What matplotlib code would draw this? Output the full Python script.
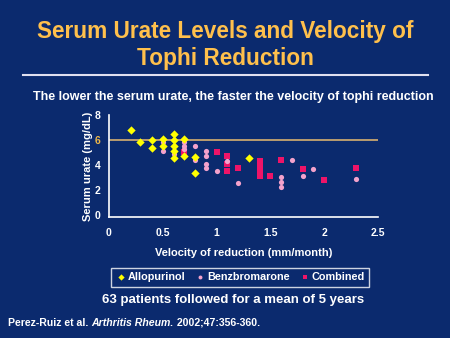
import matplotlib.pyplot as plt

BG = "#0b2a6e"

allo_x = [0.2, 0.29, 0.4, 0.4, 0.5, 0.5, 0.6, 0.6, 0.6, 0.6, 0.6, 0.7, 0.7, 0.8, 0.8, 1.3]
allo_y = [6.8, 5.85, 6.0, 5.35, 6.05, 5.5, 6.45, 6.0, 5.55, 5.1, 4.6, 6.1, 4.75, 4.65, 3.4, 4.6]

benz_x = [0.5, 0.5, 0.6, 0.7, 0.7, 0.7, 0.8, 0.8, 0.9, 0.9, 0.9, 0.9,
          1.0, 1.1, 1.2, 1.6, 1.6, 1.6, 1.7, 1.8, 1.9, 2.3]
benz_y = [5.8, 5.1, 4.9, 5.85, 5.55, 5.25, 5.5, 4.4, 5.1, 4.75, 4.1, 3.75,
          3.55, 4.3, 2.6, 3.05, 2.65, 2.25, 4.4, 3.15, 3.65, 2.85]

comb_x = [0.7, 1.0, 1.1, 1.1, 1.1, 1.2, 1.4, 1.4, 1.4, 1.4, 1.5, 1.6, 1.8, 2.0, 2.3]
comb_y = [5.0, 5.0, 4.75, 4.05, 3.55, 3.75, 4.3, 3.9, 3.5, 3.1, 3.15, 4.4, 3.7, 2.8, 3.75]

x_ticks = [0, 0.5, 1, 1.5, 2, 2.5]
x_tick_labels = ["0", "0.5", "1", "1.5", "2", "2.5"]
y_ticks = [0, 2, 4, 6, 8]

plt.rcParams["font.family"] = ["Liberation Sans", "DejaVu Sans"]

fig = plt.figure(figsize=(4.5, 3.38), dpi=100, facecolor=BG)
ax = fig.add_axes([0.2422, 0.358, 0.5978, 0.302], facecolor=BG)

# reference line at 6 mg/dL
ax.axhline(6, color="#d8b070", lw=1.2, zorder=1)

comb = ax.scatter(comb_x, comb_y, marker="s", s=22, color="#ee1468", zorder=2, lw=0)
benz = ax.scatter(benz_x, benz_y, marker="o", s=14, color="#f4a2cc", zorder=3, lw=0)
allo = ax.scatter(allo_x, allo_y, marker="D", s=18, color="#ffff00", zorder=4, lw=0)

ax.set_xlim(0, 2.5)
ax.set_ylim(-0.15, 8)
ax.set_xticks(x_ticks, x_tick_labels)
ax.set_yticks(y_ticks, [str(v) for v in y_ticks])
ax.tick_params(colors="white", length=0, labelsize=7.5)
ax.tick_params(axis="x", pad=8)
ax.tick_params(axis="y", pad=6)
for lbl in ax.get_xticklabels() + ax.get_yticklabels():
    lbl.set_fontweight("bold")
ax.get_yticklabels()[3].set_color("#f0b848")

for side in ["top", "right"]:
    ax.spines[side].set_visible(False)
for side in ["left", "bottom"]:
    ax.spines[side].set_color("white")
    ax.spines[side].set_linewidth(1.2)

ax.set_xlabel("Velocity of reduction (mm/month)", color="white",
              fontsize=8, fontweight="bold", labelpad=7)
ax.set_ylabel("Serum urate (mg/dL)", color="white",
              fontsize=8, fontweight="bold", labelpad=1)

# title block
fig.text(0.5, 0.908, "Serum Urate Levels and Velocity of", ha="center",
         va="center", color="#ffc04c", fontsize=16.3, fontweight="bold")
fig.text(0.5, 0.828, "Tophi Reduction", ha="center", va="center",
         color="#ffc04c", fontsize=16.3, fontweight="bold")
fig.add_artist(plt.Line2D([0.051, 0.951], [0.778, 0.778],
                          transform=fig.transFigure, color="#e0e0f0", lw=1.5))
fig.text(0.518, 0.714,
         "The lower the serum urate, the faster the velocity of tophi reduction",
         ha="center", va="center", color="white", fontsize=9, fontweight="bold")

leg = ax.legend([allo, benz, comb],
                ["Allopurinol", "Benzbromarone", "Combined"],
                loc="center", bbox_to_anchor=(0.487, -0.59), ncol=3,
                frameon=True, fontsize=7.8, handletextpad=0.1,
                columnspacing=0.9, borderpad=0.4, markerscale=0.75,
                handlelength=1.0, fancybox=False)
leg.get_frame().set_facecolor(BG)
leg.get_frame().set_edgecolor("white")
leg.get_frame().set_linewidth(1.0)
for t in leg.get_texts():
    t.set_color("white")
    t.set_fontweight("bold")

fig.text(0.518, 0.111, "63 patients followed for a mean of 5 years",
         ha="center", va="center", color="white", fontsize=9.5, fontweight="bold")

# citation, pieces laid out one after another
renderer = fig.canvas.get_renderer()
x0 = 8 / 450
parts = [("Perez-Ruiz et al. ", "normal"), ("Arthritis Rheum.", "italic"),
         (" 2002;47:356-360.", "normal")]
for txt, st in parts:
    t = fig.text(x0, 0.045, txt, ha="left", va="center", color="white",
                 fontsize=7.6, fontweight="bold", style=st)
    bb = t.get_window_extent(renderer)
    x0 += bb.width / fig.bbox.width

fig.savefig("out.png", dpi=100, facecolor=BG)
